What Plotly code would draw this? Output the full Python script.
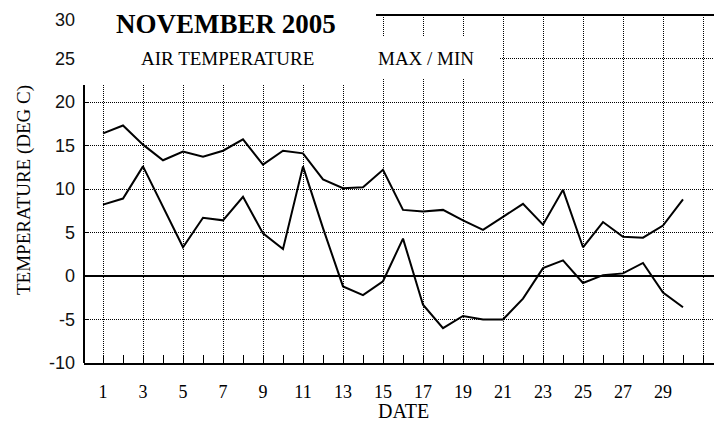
import plotly.graph_objects as go

dates = list(range(1, 31))
t_max = [16.4, 17.3, 15.1, 13.3, 14.3, 13.7, 14.4, 15.7, 12.8, 14.4, 14.1, 11.1, 10.1, 10.2, 12.2,
         7.6, 7.4, 7.6, 6.4, 5.3, 6.8, 8.3, 5.9, 9.9, 3.3, 6.2, 4.5, 4.4, 5.8, 8.8]
t_min = [8.2, 8.9, 12.6, 8.0, 3.3, 6.7, 6.4, 9.1, 4.9, 3.1, 12.6, 5.5, -1.2, -2.2, -0.6,
         4.3, -3.3, -6.0, -4.6, -5.0, -5.0, -2.6, 0.9, 1.8, -0.8, 0.1, 0.3, 1.5, -1.9, -3.6]
x_tickvals = list(range(1, 32, 2))
x_ticktext = [str(v) if v <= 29 else "" for v in x_tickvals]
y_tickvals = list(range(-10, 31, 5))
y_top = y_tickvals[-1]
# the top label is drawn as an annotation so it is not clipped at the page edge
y_ticktext = [str(v) if v != y_top else "" for v in y_tickvals]

SERIF = "Liberation Serif, Times New Roman, serif"
SANS = "Liberation Sans Narrow, Arial Narrow, Liberation Sans, Arial, sans-serif"

fig = go.Figure()
for series in (t_max, t_min):
    fig.add_trace(go.Scatter(x=dates, y=series, mode="lines",
                             line=dict(color="black", width=2), showlegend=False,
                             hoverinfo="skip"))

# page body has an 8px margin; figure is sized to fill the remaining window
OFF = 8
W, H = 722 - OFF, 434 - OFF
L, R, T, B = 84 - OFF, 0, 15 - OFF, 434 - 363
pw, ph = W - L - R, H - T - B

def px(xp):
    return (xp - OFF - L) / pw

def py(yp):
    return (H - B - (yp - OFF)) / ph

fig.update_layout(
    width=W, height=H,
    margin=dict(l=L, r=R, t=T, b=B, pad=0, autoexpand=False),
    paper_bgcolor="white", plot_bgcolor="white",
    xaxis=dict(
        range=[0.05, 31.95], tickvals=x_tickvals, ticktext=x_ticktext,
        ticks="inside", ticklen=8, tickwidth=1, tickcolor="black",
        minor=dict(dtick=1, tick0=0, ticks="inside", ticklen=8, tickwidth=1,
                   tickcolor="black", showgrid=False),
        showgrid=True, gridcolor="black", gridwidth=1, griddash="1px,1px",
        showline=True, linecolor="black", linewidth=2,
        zeroline=False, automargin=False, ticklabeloverflow="allow",
        tickfont=dict(family=SERIF, size=18, color="black"),
        ticklabelstandoff=11,
    ),
    yaxis=dict(
        range=[-10, 30], tickvals=y_tickvals, ticktext=y_ticktext,
        ticks="inside", ticklen=5, tickwidth=1, tickcolor="black",
        showgrid=True, gridcolor="black", gridwidth=1, griddash="1px,1px",
        showline=False, zeroline=True, zerolinecolor="black", zerolinewidth=1.5,
        automargin=False, ticklabeloverflow="allow",
        tickfont=dict(family=SANS, size=18, color="#111"),
        ticklabelstandoff=8,
    ),
    shapes=[
        dict(type="rect", xref="paper", yref="paper", x0=-0.001, x1=px(376), y0=py(85), y1=1.01,
             fillcolor="white", line=dict(width=0), layer="above"),
        dict(type="rect", xref="paper", yref="paper", x0=px(372), x1=px(500), y0=py(78), y1=py(36),
             fillcolor="white", line=dict(width=0), layer="above"),
        dict(type="line", xref="paper", yref="paper", x0=px(376), x1=1, y0=1, y1=1,
             line=dict(color="black", width=2), layer="above"),
        dict(type="line", xref="paper", yref="paper", x0=0, x1=0, y0=0, y1=py(85),
             line=dict(color="black", width=2), layer="above"),
    ],
    annotations=[
        dict(text=str(y_top), xref="paper", yref="paper", x=px(77), y=py(OFF),
             xanchor="right", yanchor="top", showarrow=False,
             font=dict(family=SANS, size=18, color="#111")),
        dict(text="<b>NOVEMBER 2005</b>", xref="paper", yref="paper", x=px(226), y=py(24),
             xanchor="center", yanchor="middle", showarrow=False,
             font=dict(family=SERIF, size=27, color="black")),
        dict(text="AIR TEMPERATURE", xref="paper", yref="paper", x=px(227), y=py(58),
             xanchor="center", yanchor="middle", showarrow=False,
             font=dict(family=SERIF, size=19, color="black")),
        dict(text="MAX / MIN", xref="paper", yref="paper", x=px(426), y=py(59),
             xanchor="center", yanchor="middle", showarrow=False,
             font=dict(family=SERIF, size=19, color="black")),
        dict(text="DATE", xref="paper", yref="paper", x=px(404), y=py(411),
             xanchor="center", yanchor="middle", showarrow=False,
             font=dict(family=SERIF, size=20, color="black")),
        dict(text="TEMPERATURE (DEG C)", xref="paper", yref="paper", x=px(24), y=py(190),
             xanchor="center", yanchor="middle", showarrow=False, textangle=-90,
             font=dict(family=SERIF, size=19, color="black")),
    ],
)

fig.write_html("out.html")
